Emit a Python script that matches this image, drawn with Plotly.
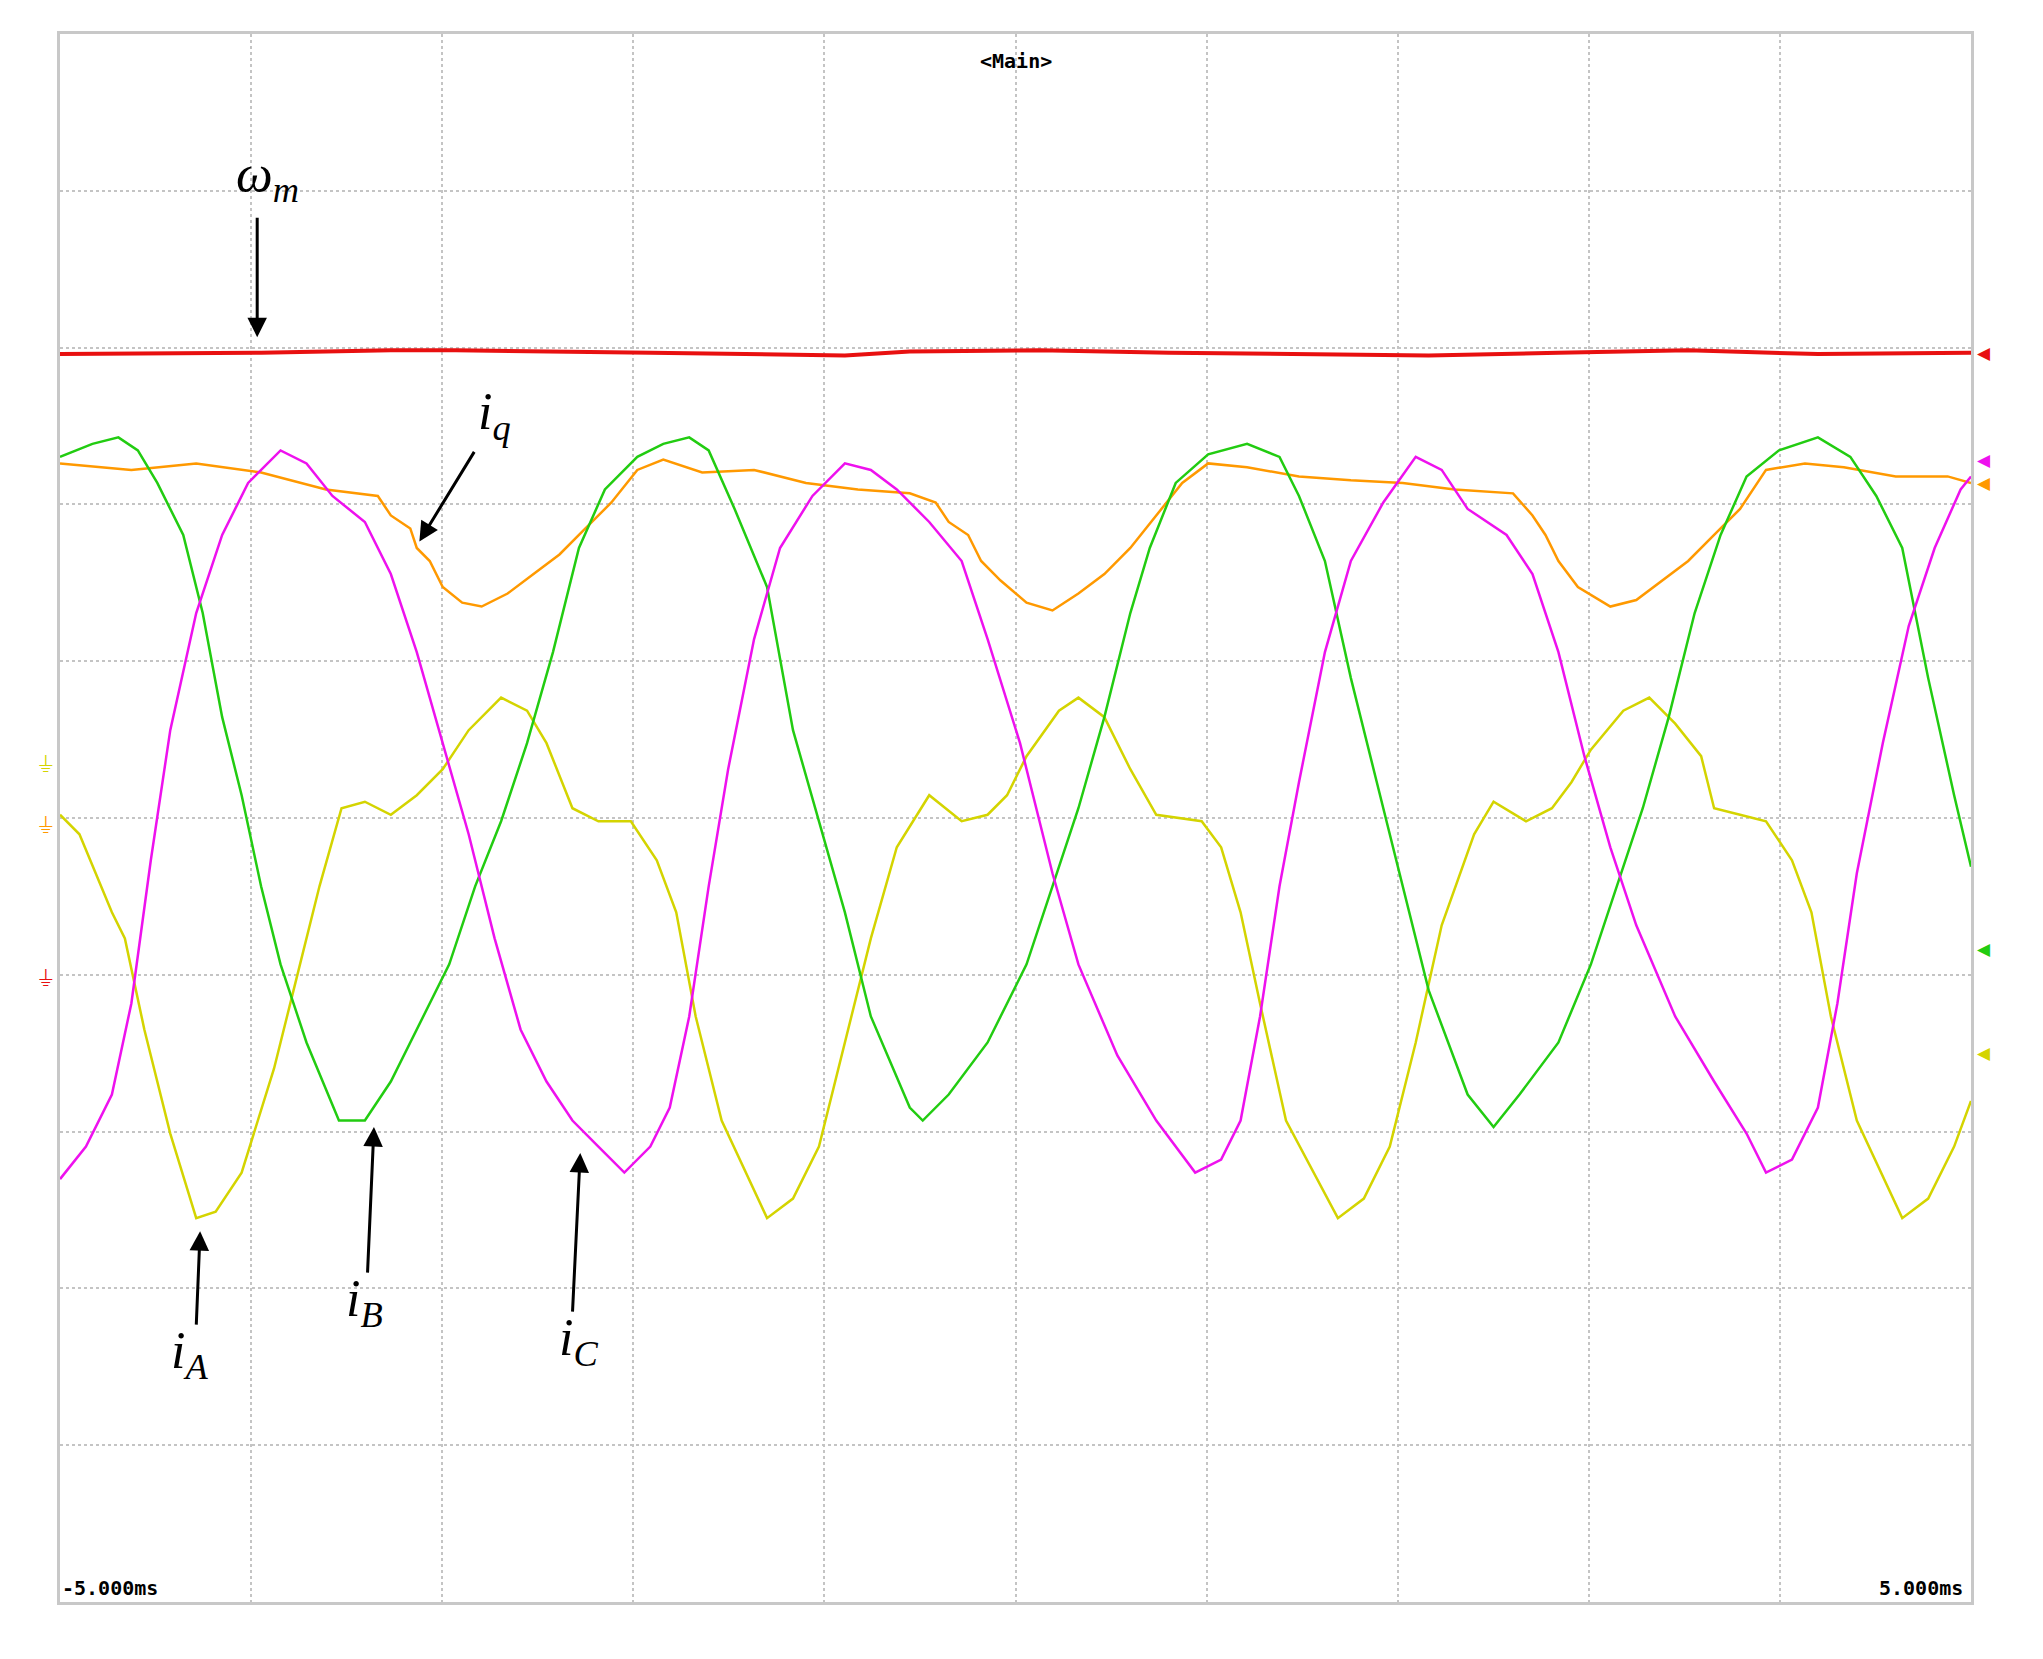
import plotly.graph_objects as go
import numpy as np

# Digitized scope readings: time in screen divisions (0..10 over -5..5 ms), amplitude in divisions from top
iA_t = [45,60,85,95,110,130,150,165,185,210,225,245,262,280,300,320,340,360,385,405,420,440,460,485,505,520,535,555,590,610,630,650,670,690,715,740,760,775,790,815,830,850,870,890,925,940,955,970,990,1030,1050,1070,1090,1110,1135,1150,1175,1195,1210,1225,1250,1270,1290,1310,1320,1340,1360,1380,1395,1410,1430,1465,1485,1505,1518]
iA_v = [625,640,700,720,790,870,935,930,900,820,760,680,620,615,625,610,590,560,535,545,570,620,630,630,660,700,780,860,935,920,880,800,720,650,610,630,625,610,580,545,535,550,590,625,630,650,700,770,860,935,920,880,800,710,640,615,630,620,600,575,545,535,555,580,620,625,630,660,700,780,860,935,920,880,845]
iB_t = [45,70,90,105,120,140,155,170,185,200,215,235,260,280,300,320,345,365,385,405,425,445,465,490,510,530,545,565,590,610,630,650,670,700,710,730,760,790,810,830,850,870,885,905,930,960,985,1000,1020,1040,1060,1080,1100,1130,1150,1170,1200,1225,1245,1265,1285,1305,1325,1345,1370,1400,1425,1445,1465,1485,1505,1518]
iB_v = [350,340,335,345,370,410,470,550,610,680,740,800,860,860,830,790,740,680,630,570,500,420,375,350,340,335,345,390,450,560,630,700,780,850,860,840,800,740,680,620,550,470,420,370,348,340,350,380,430,520,600,680,760,840,865,840,800,740,680,620,550,470,410,365,345,335,350,380,420,520,610,665]
iC_t = [45,65,85,100,115,130,150,170,190,215,235,255,280,300,320,340,360,380,400,420,440,460,480,500,515,530,545,560,580,600,625,650,670,690,715,740,760,785,810,830,860,890,920,940,955,970,985,1000,1020,1040,1065,1090,1110,1130,1160,1180,1200,1220,1240,1260,1290,1320,1345,1360,1380,1400,1415,1430,1450,1470,1490,1510,1518]
iC_v = [905,880,840,770,660,560,470,410,370,345,355,380,400,440,500,570,640,720,790,830,860,880,900,880,850,780,680,590,490,420,380,355,360,375,400,430,490,570,670,740,810,860,900,890,860,780,680,600,500,430,385,350,360,390,410,440,500,580,650,710,780,830,870,900,890,850,770,670,570,480,420,375,365]
iq_t = [45,100,150,200,250,290,300,315,320,330,340,355,370,390,410,430,450,470,490,510,540,580,620,660,700,720,730,745,755,770,790,810,830,850,870,890,910,930,960,1000,1040,1080,1120,1165,1180,1190,1200,1215,1240,1260,1280,1300,1320,1340,1360,1390,1420,1460,1500,1518]
iq_v = [355,360,355,362,375,380,395,405,420,430,450,462,465,455,440,425,405,385,360,352,362,360,370,375,378,385,400,410,430,445,462,468,455,440,420,395,370,355,358,365,368,370,375,378,395,410,430,450,465,460,445,430,410,390,360,355,358,365,365,370]
wm_t = [45,200,300,350,500,650,700,800,900,1000,1100,1200,1300,1400,1518]
wm_v = [271,270,268,268,270,272,269,268,270,271,272,270,268,271,270]

X0, XD, YC, YD = 45.0, 147.3, 627.5, 120.5
def tx(a): return (np.array(a) - X0) / XD - 5
def ty(a): return (YC - np.array(a)) / YD

fig = go.Figure()
for t, v, c, w in [(iA_t, iA_v, "#d4d400", 2.5), (iq_t, iq_v, "#ff9900", 2.5),
                   (iB_t, iB_v, "#22cc11", 2.5), (iC_t, iC_v, "#ee11ee", 2.5),
                   (wm_t, wm_v, "#e81010", 4)]:
    fig.add_trace(go.Scatter(x=tx(t), y=ty(v), mode="lines", line=dict(color=c, width=w),
                             showlegend=False, hoverinfo="skip"))

ann = []
def arrow(hx, hy, tx_, ty_):
    ann.append(dict(x=tx([hx])[0], y=ty([hy])[0], ax=tx([tx_])[0], ay=ty([ty_])[0],
                    xref="x", yref="y", axref="x", ayref="y", showarrow=True,
                    arrowhead=2, arrowsize=1.3, arrowwidth=3, arrowcolor="black", text=""))
def label(x, y, txt):
    ann.append(dict(x=tx([x])[0], y=ty([y])[0], xref="x", yref="y", showarrow=False, text=txt,
                    font=dict(family="Liberation Serif", size=52, color="black")))
arrow(197, 258, 197, 165); label(205, 135, "<i>ω</i><sub><i>m</i></sub>")
arrow(322, 415, 365, 345); label(380, 318, "<i>i</i><sub><i>q</i></sub>")
arrow(153, 945, 150, 1018); label(145, 1040, "<i>i</i><sub><i>A</i></sub>")
arrow(287, 865, 282, 978); label(280, 1000, "<i>i</i><sub><i>B</i></sub>")
arrow(446, 885, 440, 1008); label(445, 1030, "<i>i</i><sub><i>C</i></sub>")

mono = dict(family="DejaVu Sans Mono", size=20, color="black")
ann.append(dict(x=0.5, y=0.992, xref="paper", yref="paper", text="<b>&lt;Main&gt;</b>", showarrow=False, font=mono, yanchor="top"))
ann.append(dict(x=0.0, y=0.0, xref="paper", yref="paper", text="<b>-5.000ms</b>", showarrow=False, font=mono, xanchor="left", yanchor="bottom"))
ann.append(dict(x=0.997, y=0.0, xref="paper", yref="paper", text="<b>5.000ms</b>", showarrow=False, font=mono, xanchor="right", yanchor="bottom"))
# channel markers
for yy, c in [(270, "#e81010"), (352, "#ee11ee"), (370, "#ff9900"), (728, "#22cc11"), (808, "#d4d400")]:
    ann.append(dict(x=1.0, y=ty([yy])[0], xref="paper", yref="y", text="◀", showarrow=False,
                    font=dict(size=17, color=c), xanchor="left", xshift=4))
for yy, c in [(585, "#d4d400"), (632, "#ff9900"), (750, "#e81010")]:
    ann.append(dict(x=0.0, y=ty([yy])[0], xref="paper", yref="y", text="⏚", showarrow=False,
                    font=dict(size=22, color=c), xanchor="right", xshift=-4))

grid = dict(showgrid=True, gridcolor="#c4c4c4", griddash="dot", gridwidth=1.5, zeroline=False,
            showticklabels=False, ticks="", showline=True, linecolor="#c8c8c8", linewidth=3, mirror=True)
fig.update_layout(width=2043, height=1659, margin=dict(l=52, r=80, t=26, b=65),
                  plot_bgcolor="white", paper_bgcolor="white", annotations=ann,
                  xaxis=dict(range=[-5, 5], dtick=1, **grid),
                  yaxis=dict(range=[-5, 5], dtick=1, **grid))
fig.write_html("out.html")
